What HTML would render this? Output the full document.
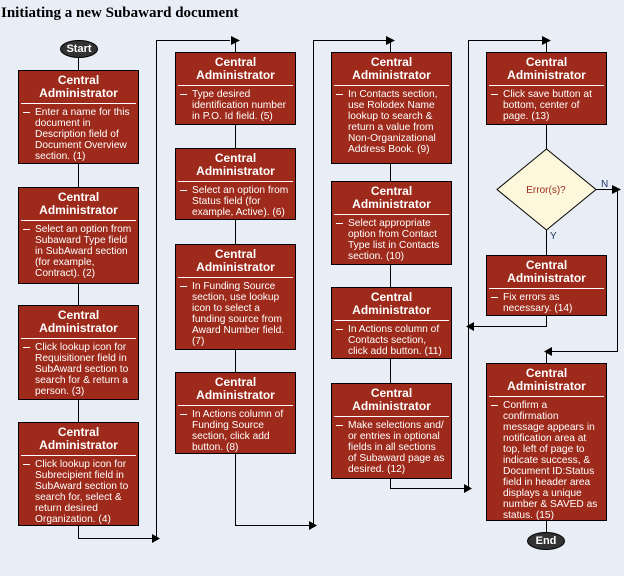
<!DOCTYPE html>
<html><head><meta charset="utf-8"><style>
body{margin:0;width:624px;height:576px;background:#e9eef6;position:relative;overflow:hidden;font-family:"Liberation Sans",Arial,sans-serif}
h1{position:absolute;left:1px;top:5px;margin:0;font:bold 15px "Liberation Serif",serif;color:#000}
.b{position:absolute;background:#9d2a1b;border:1px solid #000;box-sizing:border-box;color:#fff;overflow:hidden}
.h{font-weight:bold;font-size:12px;line-height:13px;text-align:center;padding:3px 2px 3px;margin:0 2px;border-bottom:1px solid #fff}
.t{font-size:10.2px;line-height:11px;padding:3px 0 0 16px;position:relative;white-space:nowrap}
.t:before{content:"";position:absolute;left:4px;top:8px;width:7px;height:1px;background:#fff}
svg{position:absolute;left:0;top:0}
.e{position:absolute;width:36px;height:16px;border-radius:50%;background:#333;border:1px solid #000;color:#fff;font-weight:bold;font-size:11px;line-height:16px;text-align:center}
</style></head><body>
<h1>Initiating a new Subaward document</h1>
<svg width="624" height="576">
<g stroke="#000" stroke-width="1" fill="none">
<line x1="78.5" y1="56" x2="78.5" y2="70"/>
<line x1="78.5" y1="163" x2="78.5" y2="187"/>
<line x1="78.5" y1="283" x2="78.5" y2="305"/>
<line x1="78.5" y1="399" x2="78.5" y2="422"/>
<polyline points="78.5,525 78.5,538.5 152,538.5"/>
<polyline points="156.5,538 156.5,40.5 230,40.5"/>
<line x1="235.5" y1="40" x2="235.5" y2="52"/>
<line x1="235.5" y1="124" x2="235.5" y2="148"/>
<line x1="235.5" y1="219" x2="235.5" y2="244"/>
<line x1="235.5" y1="349" x2="235.5" y2="372"/>
<polyline points="235.5,453 235.5,525.5 309,525.5"/>
<polyline points="313.5,525 313.5,40.5 386,40.5"/>
<line x1="390.5" y1="40" x2="390.5" y2="52"/>
<line x1="390.5" y1="163" x2="390.5" y2="181"/>
<line x1="390.5" y1="264" x2="390.5" y2="288"/>
<line x1="390.5" y1="358" x2="390.5" y2="383"/>
<polyline points="390.5,478 390.5,488.5 464,488.5"/>
<polyline points="468.5,490 468.5,40.5 542,40.5"/>
<line x1="546.5" y1="40" x2="546.5" y2="52"/>
<line x1="546.5" y1="124" x2="546.5" y2="150"/>
<line x1="546.5" y1="230" x2="546.5" y2="255"/>
<polyline points="546.5,315 546.5,326.5 474,326.5"/>
<polyline points="596,189.5 613,189.5"/>
<polyline points="617.5,189.5 617.5,351.5 552,351.5"/>
<line x1="546.5" y1="351" x2="546.5" y2="363"/>
<line x1="546.5" y1="520" x2="546.5" y2="533"/>
</g>
<g fill="#000">
<polygon points="231,36 240,40.5 231,45"/>
<polygon points="386,36 395,40.5 386,45"/>
<polygon points="542,36 551,40.5 542,45"/>
<polygon points="152,534 160,538.5 152,543"/>
<polygon points="309,521 317,525.5 309,530"/>
<polygon points="464,484 472,488.5 464,493"/>
<polygon points="612,185 621,189.5 612,194"/>
<polygon points="474,322 466,326.5 474,331"/>
<polygon points="552,347 544,351.5 552,356"/>
</g>
<polygon points="546.5,149 596,189.5 546.5,230 497,189.5" fill="#fdf8dc" stroke="#000"/>
<text x="546" y="193" font-size="10" fill="#9d2a1b" text-anchor="middle" font-family="Liberation Sans">Error(s)?</text>
<text x="601" y="187" font-size="10" fill="#17345e" font-family="Liberation Sans">N</text>
<text x="550" y="239" font-size="10" fill="#17345e" font-family="Liberation Sans">Y</text>
</svg>
<div class="e" style="left:60px;top:40px">Start</div>
<div class="e" style="left:527px;top:532px">End</div>

<div class="b" style="left:18px;top:70px;width:121px;height:94px"><div class="h">Central Administrator</div><div class="t">Enter a name for this<br>document in<br>Description field of<br>Document Overview<br>section. (1)</div></div>
<div class="b" style="left:18px;top:187px;width:121px;height:97px"><div class="h">Central Administrator</div><div class="t">Select an option from<br>Subaward Type field<br>in SubAward section<br>(for example,<br>Contract). (2)</div></div>
<div class="b" style="left:18px;top:305px;width:121px;height:95px"><div class="h">Central Administrator</div><div class="t">Click lookup icon for<br>Requisitioner field in<br>SubAward section to<br>search for &amp; return a<br>person. (3)</div></div>
<div class="b" style="left:18px;top:422px;width:121px;height:104px"><div class="h">Central Administrator</div><div class="t">Click lookup icon for<br>Subrecipient field in<br>SubAward section to<br>search for, select &amp;<br>return desired<br>Organization. (4)</div></div>

<div class="b" style="left:175px;top:52px;width:121px;height:73px"><div class="h">Central Administrator</div><div class="t">Type desired<br>identification number<br>in P.O. Id field. (5)</div></div>
<div class="b" style="left:175px;top:148px;width:121px;height:72px"><div class="h">Central Administrator</div><div class="t">Select an option from<br>Status field (for<br>example, Active). (6)</div></div>
<div class="b" style="left:175px;top:244px;width:121px;height:106px"><div class="h">Central Administrator</div><div class="t">In Funding Source<br>section, use lookup<br>icon to select a<br>funding source from<br>Award Number field.<br>(7)</div></div>
<div class="b" style="left:175px;top:372px;width:121px;height:82px"><div class="h">Central Administrator</div><div class="t">In Actions column of<br>Funding Source<br>section, click add<br>button. (8)</div></div>

<div class="b" style="left:331px;top:52px;width:121px;height:112px"><div class="h">Central Administrator</div><div class="t">In Contacts section,<br>use Rolodex Name<br>lookup to search &amp;<br>return a value from<br>Non-Organizational<br>Address Book. (9)</div></div>
<div class="b" style="left:331px;top:181px;width:121px;height:84px"><div class="h">Central Administrator</div><div class="t">Select appropriate<br>option from Contact<br>Type list in Contacts<br>section. (10)</div></div>
<div class="b" style="left:331px;top:287px;width:121px;height:72px"><div class="h">Central Administrator</div><div class="t">In Actions column of<br>Contacts section,<br>click add button. (11)</div></div>
<div class="b" style="left:331px;top:383px;width:121px;height:96px"><div class="h">Central Administrator</div><div class="t">Make selections and/<br>or entries in optional<br>fields in all sections<br>of Subaward page as<br>desired. (12)</div></div>

<div class="b" style="left:486px;top:52px;width:121px;height:73px"><div class="h">Central Administrator</div><div class="t">Click save button at<br>bottom, center of<br>page. (13)</div></div>
<div class="b" style="left:486px;top:255px;width:121px;height:61px"><div class="h">Central Administrator</div><div class="t">Fix errors as<br>necessary. (14)</div></div>
<div class="b" style="left:486px;top:363px;width:121px;height:158px"><div class="h">Central Administrator</div><div class="t">Confirm a<br>confirmation<br>message appears in<br>notification area at<br>top, left of page to<br>indicate success, &amp;<br>Document ID:Status<br>field in header area<br>displays a unique<br>number &amp; SAVED as<br>status. (15)</div></div>
</body></html>
